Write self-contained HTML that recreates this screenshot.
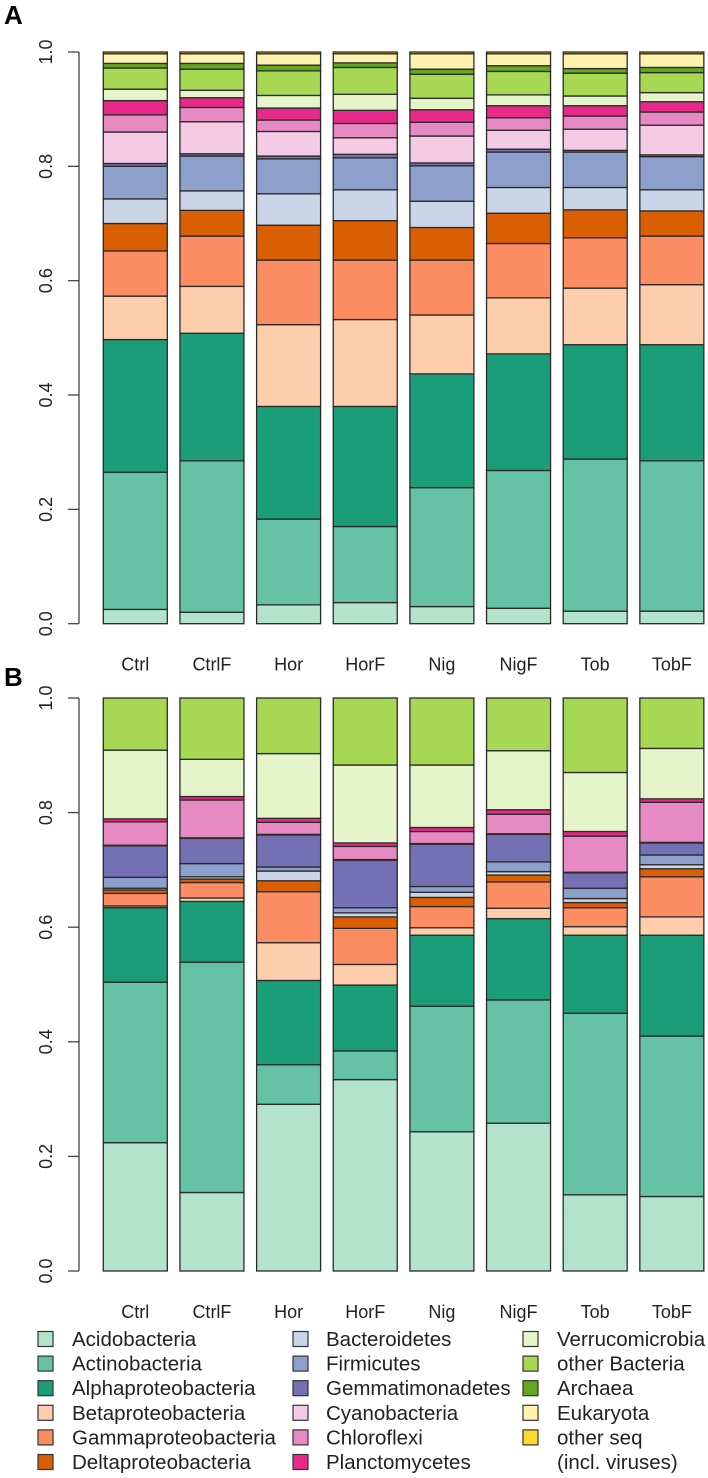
<!DOCTYPE html>
<html><head><meta charset="utf-8"><style>
html,body{margin:0;padding:0;background:#fff;}
svg{display:block;font-family:"Liberation Sans",Arial,sans-serif;}
</style></head><body>
<svg id="chart" width="708" height="1478" viewBox="0 0 708 1478" xmlns="http://www.w3.org/2000/svg">
<text x="4" y="24" font-size="26" font-weight="bold">A</text>
<text x="4" y="686" font-size="26" font-weight="bold">B</text>
<g id="panels"></g>
<g id="legend"></g>
</svg>
<script>
const samples = ["Ctrl","CtrlF","Hor","HorF","Nig","NigF","Tob","TobF"];
const taxa = ["Acidobacteria","Actinobacteria","Alphaproteobacteria","Betaproteobacteria","Gammaproteobacteria","Deltaproteobacteria","Bacteroidetes","Firmicutes","Gemmatimonadetes","Cyanobacteria","Chloroflexi","Planctomycetes","Verrucomicrobia","other Bacteria","Archaea","Eukaryota","other seq"];
const colors = ["#b3e2cd","#66c2a5","#1b9e77","#fdcdac","#fc8d62","#d95f02","#cbd5e8","#8da0cb","#7570b3","#f4cae4","#e78ac3","#e7298a","#e6f5c9","#a6d854","#66a61e","#fff2ae","#ffd92f"];
const yTicks = [0,0.2,0.4,0.6,0.8,1.0];
const yTickLabels = ["0.0","0.2","0.4","0.6","0.8","1.0"];
// cumulative proportions (top of each taxon), panel A
const cumA = [
 [.025,.265,.497,.573,.652,.700,.743,.800,.805,.860,.890,.915,.935,.972,.980,.997,1],
 [.020,.285,.508,.590,.678,.723,.757,.818,.822,.878,.903,.920,.933,.970,.980,.997,1],
 [.033,.183,.380,.523,.636,.697,.752,.813,.818,.861,.881,.902,.924,.967,.977,.997,1],
 [.037,.170,.380,.532,.636,.705,.759,.815,.821,.850,.875,.898,.926,.973,.981,.997,1],
 [.030,.238,.437,.540,.636,.693,.739,.801,.806,.853,.877,.899,.919,.961,.970,.997,1],
 [.027,.268,.472,.570,.665,.718,.763,.825,.830,.863,.885,.906,.925,.966,.976,.997,1],
 [.022,.288,.488,.587,.675,.724,.763,.825,.828,.865,.888,.906,.923,.963,.971,.997,1],
 [.022,.285,.488,.593,.678,.722,.759,.817,.820,.872,.895,.913,.929,.964,.973,.997,1]
];
// cumulative proportions, panel B
const cumB = [
 [.224,.504,.634,.637,.659,.665,.668,.687,.742,.743,.784,.789,.909,1,1,1,1],
 [.137,.539,.645,.651,.678,.684,.688,.711,.755,.756,.822,.828,.893,1,1,1,1],
 [.291,.360,.507,.573,.662,.681,.698,.705,.761,.762,.783,.790,.903,1,1,1,1],
 [.334,.384,.499,.535,.598,.618,.625,.634,.717,.718,.741,.747,.883,1,1,1,1],
 [.243,.462,.586,.599,.636,.652,.661,.671,.745,.746,.767,.774,.883,1,1,1,1],
 [.258,.473,.615,.633,.679,.691,.697,.714,.762,.763,.797,.805,.908,1,1,1,1],
 [.133,.450,.586,.601,.634,.643,.650,.668,.695,.696,.759,.767,.870,1,1,1,1],
 [.130,.410,.586,.618,.688,.702,.709,.726,.747,.748,.818,.824,.912,1,1,1,1]
];
const NS="http://www.w3.org/2000/svg";
function mk(tag,attrs,parent){const e=document.createElementNS(NS,tag);for(const k in attrs)e.setAttribute(k,attrs[k]);parent.appendChild(e);return e;}
const root=document.getElementById('panels');
function xPos(i){return 103.3+i*76.65;}
const barW=64;
function drawPanel(cum,y0,y1,tag){
  const yS=v=>y0+(y1-y0)*v;
  const g=mk('g',{},root);
  
  
  const ax=mk('line',{x1:79,x2:79,y1:yS(0),y2:yS(1),stroke:'#444','stroke-width':1.3},g);
  
  
  yTicks.forEach((t,k)=>{
    const tk=mk('line',{x1:68,x2:79,y1:yS(t),y2:yS(t),stroke:'#444','stroke-width':1.3},g);
    
    
    const tl=mk('text',{x:0,y:0,'font-size':18,'text-anchor':'middle',fill:'#222',transform:`translate(52,${yS(t)}) rotate(-90)`},g);
    tl.textContent=yTickLabels[k];
    
    
  });
  samples.forEach((s,i)=>{
    const x=xPos(i);let prev=0;
    cum[i].forEach((c,j)=>{
      if(c-prev>0.0001){
        const r=mk('rect',{x:x,y:yS(c),width:barW,height:yS(prev)-yS(c),fill:colors[j],stroke:'#2a2a2a','stroke-width':1.3},g);
        
        
      }
      prev=c;
    });
    const lb=mk('text',{x:x+barW/2,y:yS(0)+47,'font-size':18,'text-anchor':'middle',fill:'#222'},g);
    lb.textContent=s;
    
    
  });
}
drawPanel(cumA,623.7,52,'a');
drawPanel(cumB,1271,698,'b');
const lg=document.getElementById('legend');
const colX=[[38,72],[293,326],[523,557]];
taxa.forEach((t,j)=>{
  const col=Math.floor(j/6),row=j%6;
  const cy=1339+row*24.6;
  const sw=mk('rect',{x:colX[col][0],y:cy-7.5,width:15,height:15,fill:colors[j],stroke:'#333','stroke-width':1.2},lg);
  
  
  const tx=mk('text',{x:colX[col][1],y:cy+7,'font-size':20.5,fill:'#222'},lg);
  tx.textContent=t;
  
  
});
const ex=mk('text',{x:557,y:1462+7,'font-size':20.5,fill:'#222'},lg);
ex.textContent='(incl. viruses)';


</script>
</body></html>
